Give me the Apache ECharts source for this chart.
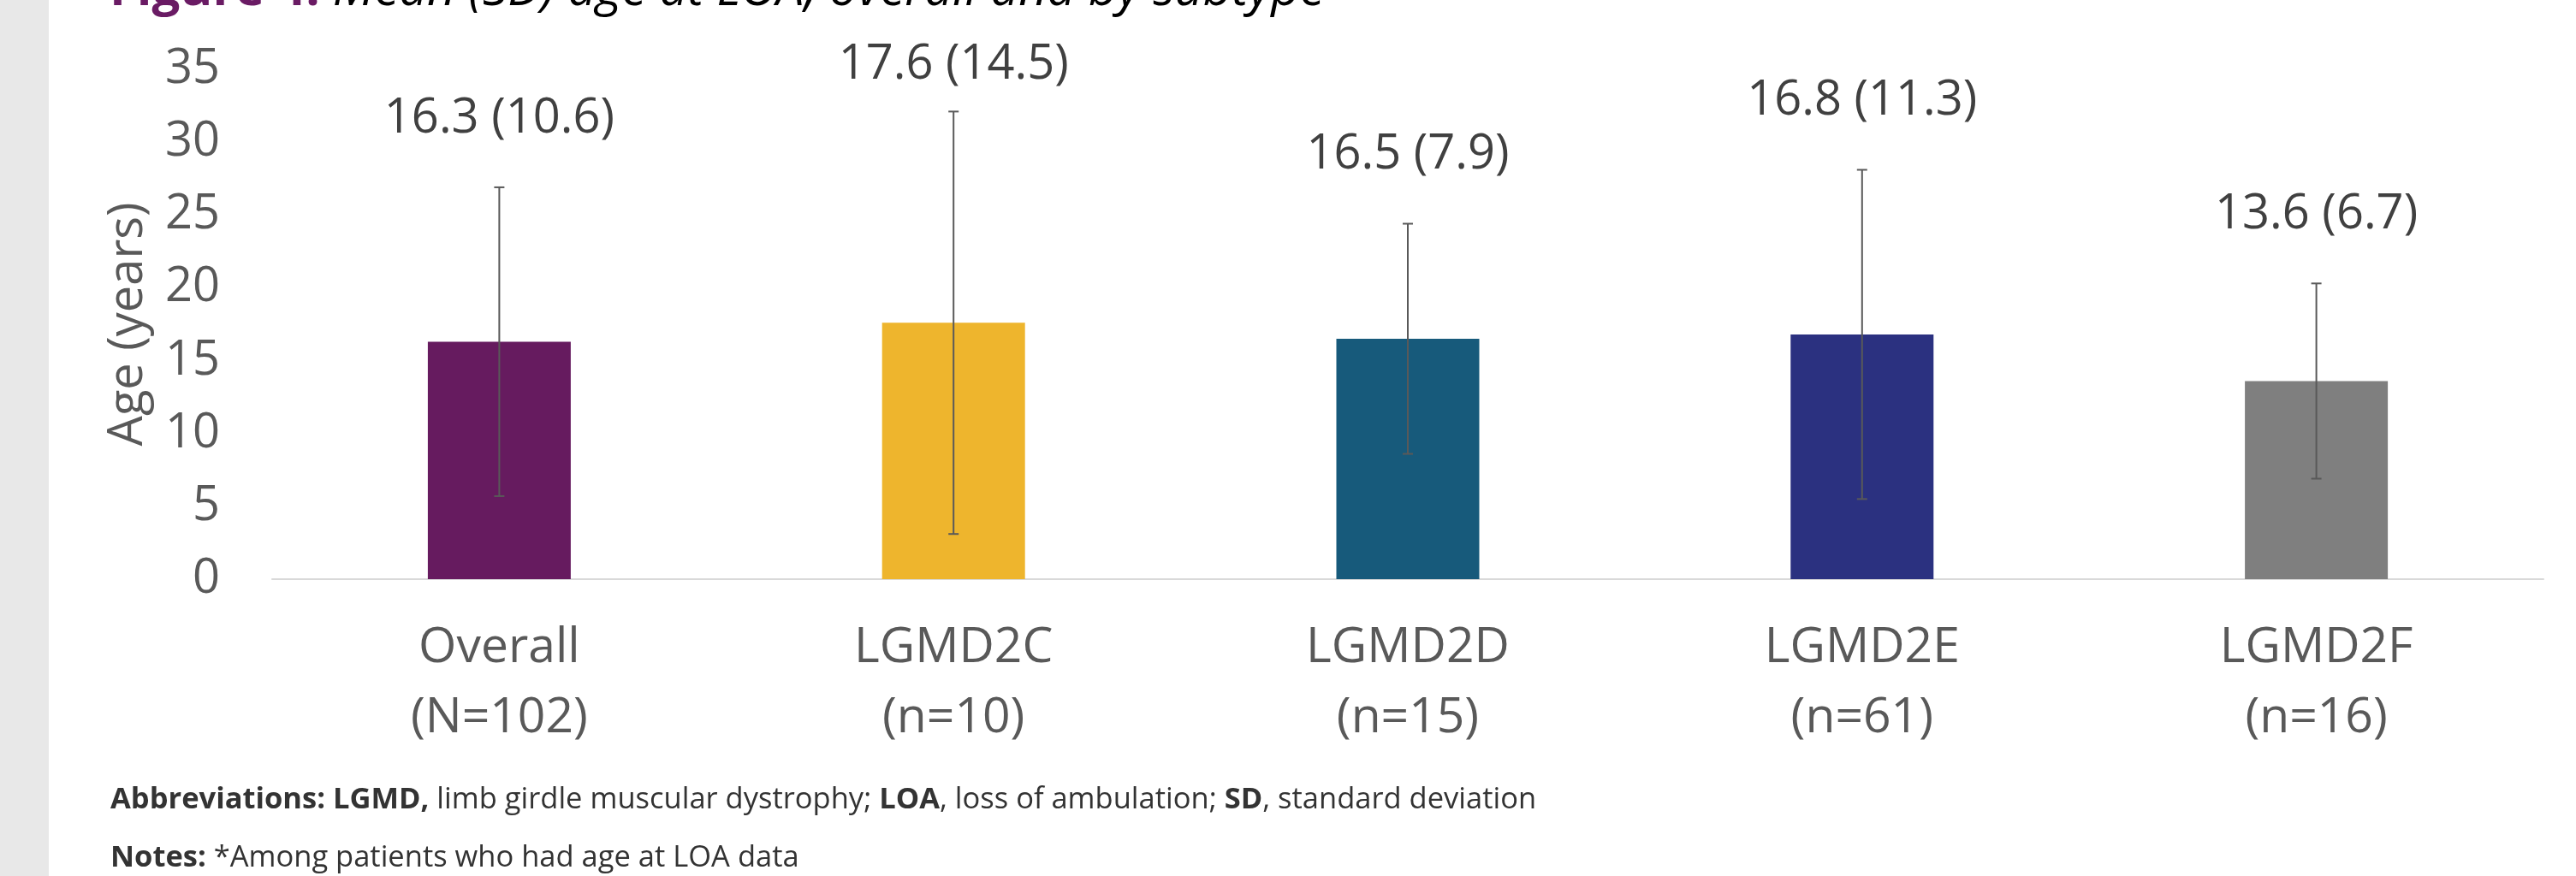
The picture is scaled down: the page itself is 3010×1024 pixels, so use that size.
<!DOCTYPE html>
<html>
<head>
<meta charset="utf-8">
<title>Age at LOA</title>
<script src="https://cdn.jsdelivr.net/npm/echarts@6/dist/echarts.min.js"></script>
<style>
    html, body { margin: 0; padding: 0; background: #ffffff; }
    #main { width: 3010px; height: 1024px; }
</style>
</head>
<body>
<div id="main"></div>
<script>
// 数据
var groups = ['Overall', 'LGMD2C', 'LGMD2D', 'LGMD2E', 'LGMD2F'];
var counts = ['N=102', 'n=10', 'n=15', 'n=61', 'n=16'];
var means = [16.3, 17.6, 16.5, 16.8, 13.6];
var sds = [10.6, 14.5, 7.9, 11.3, 6.7];
var yTicks = [0, 5, 10, 15, 20, 25, 30, 35];

var barColors = ['#661b5f', '#eeb52d', '#175a7b', '#2b3180', '#7f7f7f'];
var font = "'Open Sans', 'Noto Sans', sans-serif";

var categories = [];
var barData = [];
var errData = [];
for (var i = 0; i < groups.length; i++) {
    categories.push(groups[i] + '\n(' + counts[i] + ')');
    barData.push({ value: means[i], itemStyle: { color: barColors[i] } });
    errData.push([i, means[i] - sds[i], means[i] + sds[i]]);
}

// 误差线 + 标签
function renderErr(params, api) {
    var i = api.value(0);
    var lo = api.coord([i, api.value(1)]);
    var hi = api.coord([i, api.value(2)]);
    var x = lo[0];
    var cap = 6;
    var labelY = Math.max(hi[1] - 80, 76);
    var stroke = { stroke: '#595959', lineWidth: 2 };
    return {
        type: 'group',
        children: [
            { type: 'line', shape: { x1: x, y1: lo[1], x2: x, y2: hi[1] }, style: stroke },
            { type: 'line', shape: { x1: x - cap, y1: lo[1], x2: x + cap, y2: lo[1] }, style: stroke },
            { type: 'line', shape: { x1: x - cap, y1: hi[1], x2: x + cap, y2: hi[1] }, style: stroke },
            {
                type: 'text',
                style: {
                    text: means[i].toFixed(1) + ' (' + sds[i].toFixed(1) + ')',
                    x: x, y: labelY,
                    align: 'center', verticalAlign: 'middle',
                    fontSize: 56, fontFamily: font, fill: '#404040'
                }
            }
        ]
    };
}

var myChart = echarts.init(document.getElementById('main'));

var option = {
    backgroundColor: '#ffffff',
    animation: false,
    grid: { left: 318, right: 38, top: 81, bottom: 347 },
    xAxis: {
        type: 'category',
        data: categories,
        axisLine: { lineStyle: { color: '#d9d9d9', width: 2 } },
        axisTick: { show: false },
        axisLabel: {
            margin: 40,
            fontSize: 57,
            lineHeight: 82,
            fontFamily: font,
            color: '#595959',
            interval: 0
        }
    },
    yAxis: {
        type: 'value',
        min: yTicks[0],
        max: yTicks[yTicks.length - 1],
        interval: 5,
        name: 'Age (years)',
        nameLocation: 'middle',
        nameGap: 140,
        nameTextStyle: { fontSize: 56, fontFamily: font, color: '#595959' },
        axisLine: { show: false },
        axisTick: { show: false },
        splitLine: { show: false },
        axisLabel: {
            margin: 61,
            fontSize: 56,
            fontFamily: font,
            color: '#595959'
        }
    },
    series: [
        {
            type: 'bar',
            data: barData,
            barWidth: 167
        },
        {
            type: 'custom',
            renderItem: renderErr,
            data: errData,
            encode: { x: 0, y: [1, 2] },
            z: 10
        }
    ],
    graphic: [
        { type: 'rect', left: 0, top: 0, shape: { width: 57, height: 1024 }, style: { fill: '#e8e8e8' } },
        {
            type: 'text',
            x: 128, y: -11,
            style: {
                text: '{a|Figure 4:} {b|Mean (SD) age at LOA, overall and by subtype}',
                verticalAlign: 'middle',
                fontSize: 58, fontFamily: font, fill: '#000000',
                rich: {
                    a: { fontSize: 58, fontFamily: font, fontWeight: 'bold', fill: '#6a1b64' },
                    b: { fontSize: 58, fontFamily: font, fontStyle: 'italic', fill: '#000000' }
                }
            }
        },
        {
            type: 'text',
            x: 129, y: 935,
            style: {
                text: '{b|Abbreviations: LGMD,} limb girdle muscular dystrophy; {b|LOA}, loss of ambulation; {b|SD}, standard deviation',
                verticalAlign: 'middle',
                fontSize: 34.5, fontFamily: font, fill: '#333333',
                rich: { b: { fontSize: 34.5, fontFamily: font, fontWeight: 'bold', fill: '#333333' } }
            }
        },
        {
            type: 'text',
            x: 129, y: 1003,
            style: {
                text: '{b|Notes:} *Among patients who had age at LOA data',
                verticalAlign: 'middle',
                fontSize: 34.5, fontFamily: font, fill: '#333333',
                rich: { b: { fontSize: 34.5, fontFamily: font, fontWeight: 'bold', fill: '#333333' } }
            }
        }
    ]
};

myChart.setOption(option);
</script>
</body>
</html>
